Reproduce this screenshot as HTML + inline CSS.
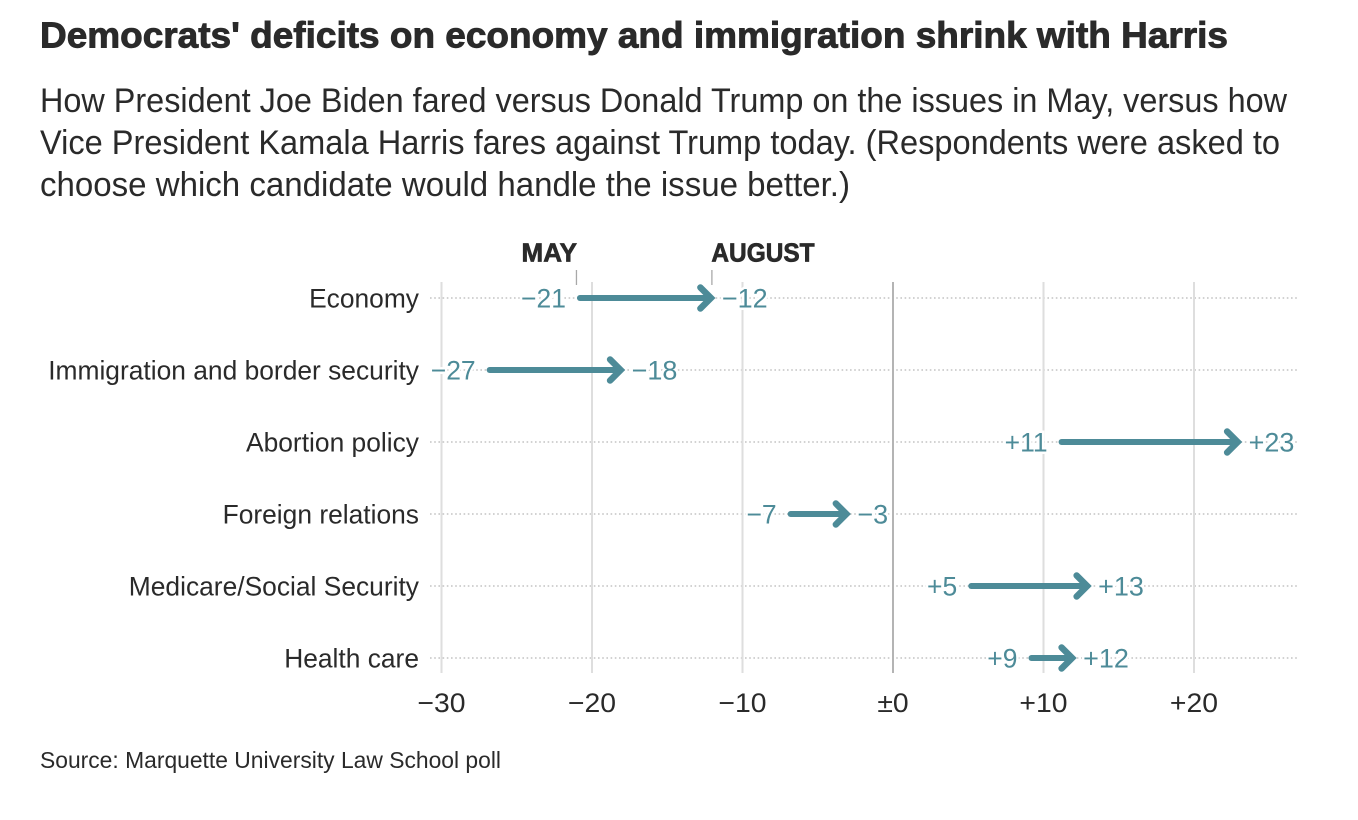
<!DOCTYPE html>
<html lang="en">
<head>
<meta charset="utf-8">
<title>Democrats' deficits on economy and immigration shrink with Harris</title>
<style>
html,body{margin:0;padding:0;background:#fff;width:1358px;height:820px;overflow:hidden}
svg{display:block;font-family:"Liberation Sans",sans-serif}
</style>
</head>
<body>
<svg id="chart" width="1358" height="820" viewBox="0 0 1358 820" xmlns="http://www.w3.org/2000/svg">
  <rect width="1358" height="820" fill="#fff"/>
  <text x="40" y="47.5" font-size="36" font-weight="700" fill="#2a2a2a" stroke="#2a2a2a" stroke-width="0.9" textLength="1188" lengthAdjust="spacingAndGlyphs">Democrats' deficits on economy and immigration shrink with Harris</text>
  <text x="40" y="112" font-size="34" fill="#2a2a2a" textLength="1247" lengthAdjust="spacingAndGlyphs">How President Joe Biden fared versus Donald Trump on the issues in May, versus how</text>
  <text x="40" y="154" font-size="34" fill="#2a2a2a" textLength="1240" lengthAdjust="spacingAndGlyphs">Vice President Kamala Harris fares against Trump today. (Respondents were asked to</text>
  <text x="40" y="196" font-size="34" fill="#2a2a2a" textLength="810" lengthAdjust="spacingAndGlyphs">choose which candidate would handle the issue better.)</text>
  <g id="plot"></g>
  <text x="40" y="768" font-size="23" fill="#2a2a2a" textLength="461" lengthAdjust="spacingAndGlyphs">Source: Marquette University Law School poll</text>
</svg>
<script>
const categories = ['Economy', 'Immigration and border security', 'Abortion policy', 'Foreign relations', 'Medicare/Social Security', 'Health care'];
const mayValues = [-21, -27, 11, -7, 5, 9];
const augustValues = [-12, -18, 23, -3, 13, 12];
const tickValues = [-30, -20, -10, 0, 10, 20];
const tickLabels = ['\u221230', '\u221220', '\u221210', '\u00B10', '+10', '+20'];

const NS = 'http://www.w3.org/2000/svg';
const plot = document.getElementById('plot');
const xScale = v => 893 + v * 15.05;
const yScale = i => 298 + i * 72;
const TEAL = '#4d8b98';
const INK = '#2a2a2a';
const fmt = v => (v > 0 ? '+' : v < 0 ? '\u2212' : '\u00B1') + Math.abs(v);

function make(tag, attrs, text) {
  const el = document.createElementNS(NS, tag);
  for (const k in attrs) el.setAttribute(k, attrs[k]);
  if (text !== undefined) el.textContent = text;
  plot.appendChild(el);
  return el;
}
function stretch(el, ratio) {
  const w = el.getComputedTextLength();
  el.setAttribute('textLength', (w * ratio).toFixed(1));
  el.setAttribute('lengthAdjust', 'spacingAndGlyphs');
}

// row dotted lines
categories.forEach((c, i) => {
  const el = make('line', {x1: 430, x2: 1297, y1: yScale(i), y2: yScale(i), stroke: '#c4c4c4', 'stroke-width': 1.6, 'stroke-dasharray': '1.6 2.6'});
  
  
});

// vertical gridlines and tick labels
tickValues.forEach((t, i) => {
  const line = make('line', {x1: xScale(t), x2: xScale(t), y1: 282, y2: 673, stroke: t === 0 ? '#b4b4b4' : '#dedede', 'stroke-width': 2});
  
  
  const label = make('text', {x: xScale(t), y: 712, 'font-size': 27, 'text-anchor': 'middle', fill: INK}, tickLabels[i]);
  
  
  stretch(label, 1.05);
});

// category labels
categories.forEach((c, i) => {
  const label = make('text', {x: 419, y: yScale(i) + 9.5, 'font-size': 26.5, 'text-anchor': 'end', fill: INK}, c);
  
  
  stretch(label, 0.995);
});

// arrows and value labels
categories.forEach((c, i) => {
  const x0 = xScale(mayValues[i]);
  const x1 = xScale(augustValues[i]) + 1;
  const y = yScale(i);
  const shaft = make('line', {x1: x0 + 3, x2: x1 - 3, y1: y, y2: y, stroke: TEAL, 'stroke-width': 6, 'stroke-linecap': 'round'});
  
  
  const head = make('path', {d: 'M' + (x1 - 13) + ' ' + (y - 10.5) + 'L' + (x1 - 2.5) + ' ' + y + 'L' + (x1 - 13) + ' ' + (y + 10.5), fill: 'none', stroke: TEAL, 'stroke-width': 6.5, 'stroke-linecap': 'round', 'stroke-linejoin': 'miter'});
  
  
  const start = make('text', {x: x0 - 11, y: y + 9.5, 'font-size': 27, 'text-anchor': 'end', fill: TEAL, stroke: '#fff', 'stroke-width': 5, 'paint-order': 'stroke'}, fmt(mayValues[i]));
  
  
  stretch(start, 0.98);
  const end = make('text', {x: x1 + 8.5, y: y + 9.5, 'font-size': 27, 'text-anchor': 'start', fill: TEAL, stroke: '#fff', 'stroke-width': 5, 'paint-order': 'stroke'}, fmt(augustValues[i]));
  
  
  stretch(end, 1.0);
});

// column headers
const mayHeader = make('text', {x: xScale(mayValues[0]), y: 261.5, 'font-size': 26, 'font-weight': 700, 'text-anchor': 'end', fill: INK, stroke: INK, 'stroke-width': 0.7}, 'MAY');


stretch(mayHeader, 1.0);
const augHeader = make('text', {x: xScale(augustValues[0]) - 1, y: 261.5, 'font-size': 26, 'font-weight': 700, 'text-anchor': 'start', fill: INK, stroke: INK, 'stroke-width': 0.7}, 'AUGUST');


stretch(augHeader, 0.94);
[mayValues[0], augustValues[0]].forEach(v => {
  const tick = make('line', {x1: xScale(v) - 0.5, x2: xScale(v) - 0.5, y1: 270, y2: 285, stroke: '#a8a8a8', 'stroke-width': 1.3});
  
  
});
</script>
</body>
</html>
